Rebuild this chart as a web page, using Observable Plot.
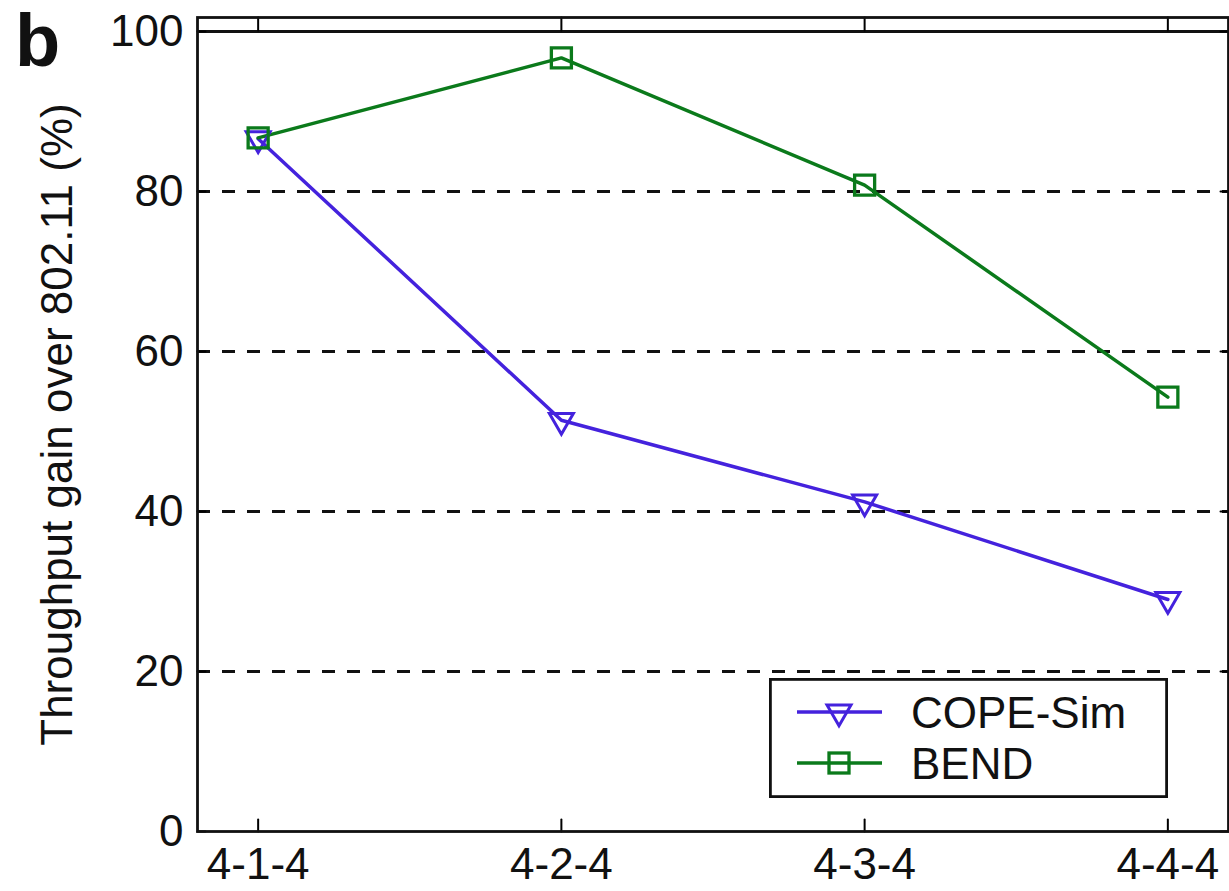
<!DOCTYPE html>
<html><head><meta charset="utf-8">
<script src="https://cdn.jsdelivr.net/npm/d3@7"></script>
<script src="https://cdn.jsdelivr.net/npm/@observablehq/plot@0.6"></script>
<style>
body{margin:0;background:#fff;}
#wrap{position:relative;width:1229px;height:891px;font-family:"Liberation Sans",Arial,sans-serif;background:#fff;}
#legend{position:absolute;left:769px;top:678px;}
</style></head><body><div id="wrap"></div>
<script>
const categories = ["4-1-4", "4-2-4", "4-3-4", "4-4-4"];
const xPositions = [1, 2, 3, 4];
const copeSim = [86.6, 51.4, 41.2, 29.0];
const bend = [86.7, 96.7, 80.8, 54.3];
const yTicks = [0, 20, 40, 60, 80, 100];
const gridLevels = [20, 40, 60, 80];
const topLevel = [100];
const seriesNames = ["COPE-Sim", "BEND"];
const seriesColors = ["#4422dd", "#0b7a1b"];
const yLabel = "Throughput gain over 802.11 (%)";
const panelLetter = "b";

const copeRows = categories.map((c, i) => ({x: xPositions[i], cat: c, value: copeSim[i], series: seriesNames[0]}));
const bendRows = categories.map((c, i) => ({x: xPositions[i], cat: c, value: bend[i], series: seriesNames[1]}));

const tickShape = {draw(ctx, l) { ctx.moveTo(0, 0); ctx.lineTo(0, -l); }};
const triangleDown = {draw(ctx, size) {
  const y = Math.sqrt(size / (Math.sqrt(3) * 3));
  const s = Math.sqrt(3) * y;
  ctx.moveTo(0, 2 * y); ctx.lineTo(-s, -y); ctx.lineTo(s, -y); ctx.closePath();
}};
const font = "'Liberation Sans', Arial, sans-serif";

const chart = Plot.plot({
  width: 1229, height: 891,
  marginLeft: 197, marginRight: 1, marginTop: 17, marginBottom: 60,
  style: {background: "white", fontFamily: font, color: "black", overflow: "visible"},
  x: {domain: [0.8, 4.2]},
  y: {domain: [0, 101.75]},
  marks: [
    Plot.ruleY(gridLevels, {stroke: "#111", strokeWidth: 3, strokeDasharray: "13,12"}),
    Plot.ruleY(topLevel, {stroke: "#111", strokeWidth: 2.8}),
    Plot.vector(xPositions, {x: d => d, frameAnchor: "bottom", length: 12, rotate: 0, anchor: "start", shape: tickShape, stroke: "black", strokeWidth: 2}),
    Plot.vector(xPositions, {x: d => d, frameAnchor: "top", length: 13, rotate: 180, anchor: "start", shape: tickShape, stroke: "black", strokeWidth: 2}),
    Plot.vector(yTicks, {y: d => d, frameAnchor: "left", length: 8, rotate: 90, anchor: "start", shape: tickShape, stroke: "black", strokeWidth: 2}),
    Plot.vector(yTicks, {y: d => d, frameAnchor: "right", length: 8, rotate: -90, anchor: "start", shape: tickShape, stroke: "black", strokeWidth: 2}),
    Plot.frame({stroke: "#111", strokeWidth: 2.8}),
    Plot.axisX(xPositions, {tickSize: 0, tickPadding: 16, tickFormat: d => categories[d - 1], fontSize: 44, label: null, fill: "#111"}),
    Plot.axisY(yTicks, {tickSize: 0, tickPadding: 14, fontSize: 44, label: null, fill: "#111"}),
    Plot.line(copeRows, {x: "x", y: "value", stroke: seriesColors[0], strokeWidth: 3.5}),
    Plot.line(bendRows, {x: "x", y: "value", stroke: seriesColors[1], strokeWidth: 3.5}),
    Plot.dot(copeRows, {x: "x", y: "value", symbol: triangleDown, r: 8.9, stroke: seriesColors[0], strokeWidth: 3, fill: "none"}),
    Plot.dot(bendRows, {x: "x", y: "value", symbol: "square", r: 11.3, stroke: seriesColors[1], strokeWidth: 3.3, fill: "none"}),
    Plot.text([yLabel], {text: d => d, frameAnchor: "left", textAnchor: "middle", lineAnchor: "middle", dx: -140, rotate: -90, fontSize: 44, fill: "#111"}),
    Plot.text([panelLetter], {text: d => d, frameAnchor: "top-left", textAnchor: "middle", lineAnchor: "middle", dx: -160, dy: 25, fontSize: 74, fontWeight: "bold", fill: "#111"})
  ]
});
const wrap = document.getElementById("wrap");
wrap.appendChild(chart);

// legend
const lw = 399, lh = 120;
const legend = d3.create("svg").attr("id", "legend").attr("width", lw).attr("height", lh)
  .style("font-family", font);
legend.append("rect").attr("x", 1.4).attr("y", 1.4).attr("width", lw - 2.8).attr("height", lh - 2.8)
  .attr("fill", "white").attr("stroke", "#111").attr("stroke-width", 2.8);
const rowsY = [34, 85];
seriesNames.forEach((name, i) => {
  const g = legend.append("g").attr("transform", `translate(0,${rowsY[i]})`);
  g.append("line").attr("x1", 28).attr("x2", 113).attr("y1", 0).attr("y2", 0)
    .attr("stroke", seriesColors[i]).attr("stroke-width", 3.5);
  if (i === 0) {
    const size = Math.PI * 8.9 * 8.9;
    g.append("path").attr("d", d3.symbol(triangleDown, size)()).attr("transform", "translate(70,0)")
      .attr("fill", "none").attr("stroke", seriesColors[i]).attr("stroke-width", 3);
  } else {
    g.append("rect").attr("x", 70 - 10).attr("y", -10).attr("width", 20).attr("height", 20)
      .attr("fill", "none").attr("stroke", seriesColors[i]).attr("stroke-width", 3.3);
  }
  g.append("text").attr("x", 142).attr("y", 0).attr("dy", "0.36em").attr("font-size", 44)
    .attr("fill", "#111").text(name);
});
wrap.appendChild(legend.node());
</script></body></html>
